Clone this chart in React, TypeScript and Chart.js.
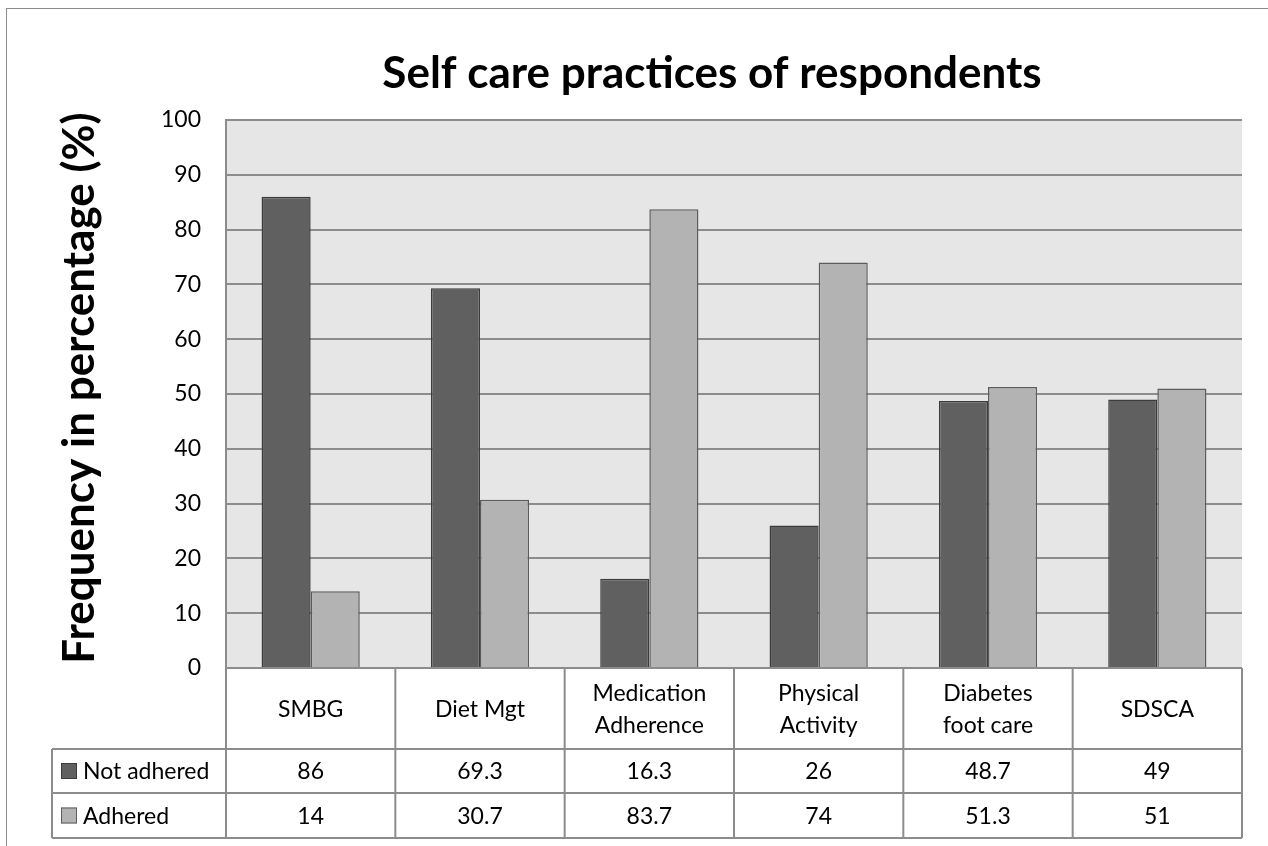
import React, { useEffect, useRef } from "react";
import { Chart, registerables } from "chart.js";

Chart.register(...registerables);

// ---- data ----
const categories: string[][] = [
  ["SMBG"],
  ["Diet Mgt"],
  ["Medication", "Adherence"],
  ["Physical", "Activity"],
  ["Diabetes", "foot care"],
  ["SDSCA"],
];
const notAdhered = [86, 69.3, 16.3, 26, 48.7, 49];
const adhered = [14, 30.7, 83.7, 74, 51.3, 51];
const seriesNames = ["Not adhered", "Adhered"];
const chartTitle = "Self care practices of respondents";
const yAxisTitle = "Frequency in percentage (%)";

const FONT = "Lato, 'Open Sans', sans-serif";
const darkFill = "#606060";
const darkBorder = "#3c3c3c";
const lightFill = "#b3b3b3";
const lightBorder = "#5c5c5c";
const lineColor = "#8c8c8c";

const bgPlugin = {
  id: "plotBg",
  beforeDraw(chart: any) {
    const { ctx, chartArea } = chart;
    const { left, top, right, bottom } = chartArea;
    ctx.save();
    ctx.fillStyle = "#ffffff";
    ctx.fillRect(0, 0, chart.width, chart.height);
    ctx.strokeStyle = "#8c8c8c";
    ctx.lineWidth = 1;
    ctx.strokeRect(6.5, 8.5, chart.width + 10, chart.height + 10);
    ctx.fillStyle = "#e6e6e6";
    ctx.fillRect(left, top, right - left, bottom - top);
    ctx.restore();
  },
};

const textPlugin = {
  id: "texts",
  afterDraw(chart: any) {
    const { ctx, chartArea } = chart;
    const { left, top, right, bottom } = chartArea;
    ctx.save();
    ctx.fillStyle = "#000000";
    // main title
    ctx.font = `bold 44px ${FONT}`;
    ctx.textAlign = "center";
    ctx.textBaseline = "alphabetic";
    ctx.fillText(chartTitle, 712, 88);
    // y-axis title
    ctx.save();
    ctx.translate(94, 388);
    ctx.rotate(-Math.PI / 2);
    ctx.textAlign = "center";
    ctx.textBaseline = "alphabetic";
    ctx.fillText(yAxisTitle, 0, 0);
    ctx.restore();

    // data table
    const n = categories.length;
    const w = (right - left) / n;
    const headerBottom = bottom + 81;
    const row1Bottom = headerBottom + 44;
    const row2Bottom = row1Bottom + 45;
    const labelLeft = 52;
    ctx.strokeStyle = lineColor;
    ctx.lineWidth = 2;
    ctx.beginPath();
    ctx.moveTo(left, bottom);
    ctx.lineTo(right, bottom);
    [headerBottom, row1Bottom, row2Bottom].forEach((y) => {
      ctx.moveTo(labelLeft, y);
      ctx.lineTo(right, y);
    });
    ctx.moveTo(labelLeft, headerBottom);
    ctx.lineTo(labelLeft, row2Bottom);
    for (let i = 0; i <= n; i++) {
      const x = left + i * w;
      ctx.moveTo(x, bottom);
      ctx.lineTo(x, row2Bottom);
    }
    ctx.stroke();

    const xs = chart.scales.x;
    ctx.font = `23px ${FONT}`;
    ctx.textAlign = "center";
    ctx.textBaseline = "middle";
    const headerMid = (bottom + headerBottom) / 2;
    const r1Mid = (headerBottom + row1Bottom) / 2;
    const r2Mid = (row1Bottom + row2Bottom) / 2;
    const pitch = 32;
    categories.forEach((lines, i) => {
      const cx = xs.getPixelForValue(i);
      const start = headerMid - ((lines.length - 1) * pitch) / 2;
      lines.forEach((ln, k) => ctx.fillText(ln, cx, start + k * pitch + 1));
      ctx.fillText(String(notAdhered[i]), cx, r1Mid + 1);
      ctx.fillText(String(adhered[i]), cx, r2Mid + 1);
    });

    // legend keys + series names
    ctx.textAlign = "left";
    const rows = [
      { mid: r1Mid, fill: darkFill, border: darkBorder, name: seriesNames[0] },
      { mid: r2Mid, fill: lightFill, border: lightBorder, name: seriesNames[1] },
    ];
    rows.forEach((r) => {
      ctx.fillStyle = r.fill;
      ctx.fillRect(61, r.mid - 8, 16, 16);
      ctx.strokeStyle = r.border;
      ctx.lineWidth = 1;
      ctx.strokeRect(61.5, r.mid - 7.5, 15, 15);
      ctx.fillStyle = "#000000";
      ctx.fillText(r.name, 83, r.mid + 1);
    });
    ctx.restore();
  },
};

export default function App() {
  const ref = useRef<HTMLCanvasElement | null>(null);
  useEffect(() => {
    if (!ref.current) return;
    const chart = new Chart(ref.current, {
      type: "bar",
      data: {
        labels: categories.map((c) => c.join(" ")),
        datasets: [
          {
            label: seriesNames[0],
            data: notAdhered,
            backgroundColor: darkFill,
            borderColor: darkBorder,
            borderWidth: 1.5,
          },
          {
            label: seriesNames[1],
            data: adhered,
            backgroundColor: lightFill,
            borderColor: lightBorder,
            borderWidth: 1.5,
          },
        ],
      },
      options: {
        animation: false,
        responsive: false,
        maintainAspectRatio: false,
        devicePixelRatio: 1,
        layout: { padding: { top: 120, bottom: 178, left: 0, right: 26 } },
        datasets: { bar: { categoryPercentage: 0.58, barPercentage: 1 } },
        plugins: {
          legend: { display: false },
          title: { display: false },
          tooltip: { enabled: false },
        },
        scales: {
          x: { display: false },
          y: {
            min: 0,
            max: 100,
            afterFit(scale: any) {
              scale.width = 226;
            },
            ticks: {
              stepSize: 10,
              padding: 25,
              color: "#000000",
              font: { family: FONT, size: 23 },
            },
            grid: { color: lineColor, lineWidth: 2, drawTicks: false },
            border: { display: true, color: lineColor, width: 2 },
          },
        },
      },
      plugins: [bgPlugin, textPlugin],
    });
    return () => chart.destroy();
  }, []);
  return (
    <div style={{ position: "fixed", left: 0, top: 0, width: 1268, height: 846, background: "#fff" }}>
      <canvas ref={ref} width={1268} height={846} style={{ width: 1268, height: 846, display: "block" }} />
    </div>
  );
}
